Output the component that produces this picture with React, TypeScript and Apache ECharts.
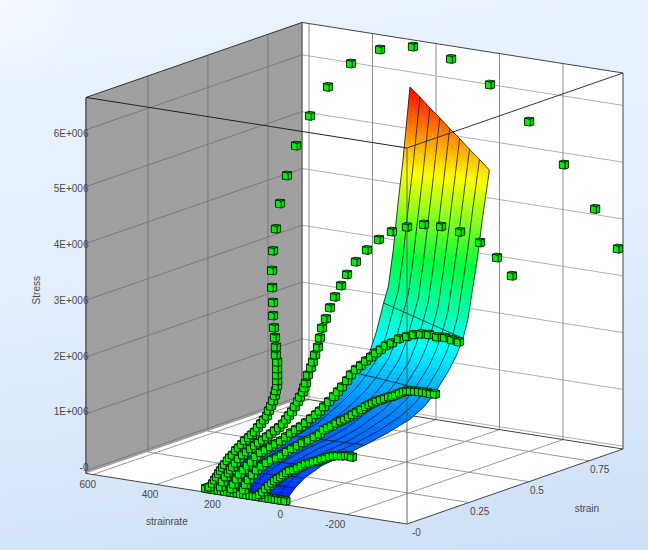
import React, { useEffect, useRef } from "react";
import * as echarts from "echarts";

// Axis extents (strainrate, strain, stress in 1e6)
const strainrateRange = [-389, 622];
const strainRange = [-0.008, 0.892];
const stressRange = [-0.05, 6.57];

const strainrateTicks = [600, 400, 200, 0, -200];
const strainrateLabels = ["600", "400", "200", "0", "-200"];
const strainTicks = [0, 0.25, 0.5, 0.75];
const strainLabels = ["-0", "0.25", "0.5", "0.75"];
const stressTicks = [0, 1, 2, 3, 4, 5, 6];
const stressLabels = ["-0", "1E+006", "2E+006", "3E+006", "4E+006", "5E+006", "6E+006"];

// Fitted surface
const surfaceRates = [250, 218.75, 187.5, 156.25, 125, 93.75, 62.5, 31.25, 0];
const surfaceStrains = [0, 0.04, 0.08, 0.15, 0.25, 0.33, 0.42, 0.52, 0.58, 0.625, 0.68, 0.71, 0.74, 0.76, 0.78, 0.8, 0.82, 0.85];
const surfaceRuledStrains = [0, 0.04, 0.08, 0.15, 0.33, 0.625, 0.74];
const surfaceStress = [
  [0.0, 0.0, 0.0, 0.0, 0.0, 0.0, 0.0, 0.0, 0.0],
  [0.12, 0.13, 0.14, 0.15, 0.15, 0.16, 0.16, 0.17, 0.17],
  [0.2, 0.21, 0.23, 0.24, 0.25, 0.26, 0.27, 0.28, 0.29],
  [0.3, 0.31, 0.33, 0.34, 0.35, 0.36, 0.37, 0.39, 0.4],
  [0.42, 0.42, 0.43, 0.44, 0.44, 0.45, 0.45, 0.46, 0.46],
  [0.46, 0.47, 0.47, 0.48, 0.48, 0.49, 0.49, 0.5, 0.5],
  [0.55, 0.55, 0.56, 0.56, 0.56, 0.56, 0.57, 0.57, 0.57],
  [0.78, 0.77, 0.76, 0.75, 0.74, 0.72, 0.71, 0.7, 0.68],
  [0.95, 0.93, 0.92, 0.9, 0.89, 0.87, 0.85, 0.84, 0.82],
  [1.12, 1.1, 1.09, 1.07, 1.06, 1.04, 1.03, 1.01, 1.0],
  [1.38, 1.37, 1.36, 1.35, 1.34, 1.33, 1.32, 1.31, 1.3],
  [1.72, 1.69, 1.66, 1.63, 1.61, 1.58, 1.55, 1.53, 1.5],
  [2.18, 2.13, 2.08, 2.03, 1.98, 1.93, 1.88, 1.83, 1.78],
  [2.45, 2.4, 2.36, 2.31, 2.27, 2.22, 2.17, 2.13, 2.08],
  [3.05, 2.99, 2.94, 2.88, 2.83, 2.77, 2.71, 2.66, 2.6],
  [3.85, 3.76, 3.66, 3.57, 3.48, 3.38, 3.29, 3.19, 3.1],
  [4.55, 4.45, 4.35, 4.25, 4.15, 4.05, 3.95, 3.85, 3.75],
  [5.82, 5.67, 5.51, 5.36, 5.2, 5.05, 4.89, 4.74, 4.58],
];

// Measured points: one strainrate per curve, [strain, stress] pairs
const curveRates = [240, 205, 170, 130, 80];
const curve1 = [[0.003,0.03],[0.016,0.07],[0.024,0.12],[0.033,0.16],[0.041,0.21],[0.049,0.25],[0.058,0.29],[0.066,0.33],[0.078,0.38],[0.087,0.42],[0.099,0.45],[0.112,0.51],[0.124,0.54],[0.137,0.58],[0.149,0.63],[0.166,0.66],[0.178,0.69],[0.191,0.72],[0.203,0.78],[0.216,0.83],[0.228,0.88],[0.241,0.93],[0.249,1.01],[0.258,1.08],[0.266,1.16],[0.274,1.24],[0.278,1.32],[0.283,1.4],[0.283,1.49],[0.283,1.59],[0.283,1.7],[0.283,1.82],[0.278,1.95],[0.278,2.09],[0.274,2.26],[0.27,2.44],[0.266,2.66],[0.266,2.89],[0.262,3.16],[0.262,3.46],[0.266,3.8],[0.278,4.17],[0.295,4.59],[0.324,5.04],[0.362,5.51],[0.42,5.95],[0.495,6.35],[0.591,6.62],[0.712,6.69],[0.849,6.54],[1.008,6.09],[1.17,5.4],[1.333,4.51],[1.478,3.54],[1.608,2.57],[1.703,1.73]];
const curve2 = [[0.003,0.06],[0.011,0.14],[0.024,0.21],[0.036,0.26],[0.045,0.3],[0.053,0.34],[0.065,0.39],[0.078,0.45],[0.095,0.49],[0.111,0.52],[0.128,0.55],[0.145,0.58],[0.161,0.61],[0.178,0.63],[0.195,0.66],[0.211,0.69],[0.228,0.72],[0.245,0.75],[0.261,0.79],[0.274,0.85],[0.286,0.9],[0.299,0.95],[0.311,1.02],[0.324,1.09],[0.332,1.16],[0.345,1.23],[0.35,1.3],[0.357,1.37],[0.365,1.5],[0.378,1.61],[0.386,1.7],[0.395,1.81],[0.407,1.93],[0.415,2.08],[0.424,2.24],[0.44,2.38],[0.457,2.55],[0.478,2.71],[0.503,2.87],[0.528,3.03],[0.565,3.2],[0.611,3.34],[0.661,3.45],[0.715,3.51],[0.778,3.5],[0.849,3.44],[0.92,3.3],[0.999,3.09],[1.082,2.78],[1.153,2.41],[1.215,2.0]];
const curve3 = [[0.003,0.06],[0.011,0.13],[0.023,0.2],[0.036,0.27],[0.053,0.32],[0.069,0.37],[0.086,0.41],[0.103,0.48],[0.123,0.52],[0.144,0.54],[0.165,0.56],[0.186,0.58],[0.207,0.6],[0.228,0.64],[0.248,0.68],[0.269,0.71],[0.29,0.73],[0.311,0.77],[0.332,0.81],[0.353,0.85],[0.369,0.89],[0.386,0.94],[0.407,1.0],[0.428,1.06],[0.444,1.12],[0.461,1.18],[0.482,1.26],[0.498,1.34],[0.519,1.4],[0.54,1.44],[0.561,1.49],[0.582,1.53],[0.603,1.57],[0.623,1.6],[0.644,1.64],[0.669,1.65],[0.698,1.68],[0.732,1.67],[0.761,1.66],[0.79,1.63],[0.823,1.57],[0.857,1.48],[0.89,1.42],[0.919,1.34],[0.948,1.26]];
const curve4 = [[0,0.08],[0.008,0.16],[0.02,0.23],[0.037,0.29],[0.054,0.35],[0.075,0.39],[0.095,0.42],[0.116,0.44],[0.137,0.44],[0.158,0.46],[0.179,0.49],[0.2,0.51],[0.225,0.53],[0.245,0.55],[0.27,0.56],[0.295,0.58],[0.316,0.6],[0.333,0.65],[0.35,0.66],[0.366,0.67],[0.385,0.69],[0.404,0.7],[0.42,0.71],[0.437,0.72],[0.453,0.74],[0.47,0.76],[0.489,0.78],[0.508,0.8],[0.523,0.81],[0.537,0.82],[0.553,0.83],[0.57,0.83],[0.587,0.83],[0.604,0.83],[0.618,0.82],[0.633,0.82],[0.65,0.83],[0.666,0.83],[0.68,0.82],[0.695,0.8],[0.712,0.77],[0.729,0.74],[0.745,0.71],[0.762,0.67],[0.778,0.63],[0.795,0.6]];
const curve5 = [[0,0.04],[0.013,0.07],[0.025,0.11],[0.038,0.14],[0.05,0.17],[0.063,0.19],[0.075,0.21],[0.088,0.22],[0.1,0.24],[0.113,0.26],[0.125,0.28],[0.142,0.27],[0.158,0.28],[0.175,0.29],[0.192,0.3],[0.208,0.29],[0.225,0.29],[0.242,0.28],[0.258,0.29],[0.275,0.28],[0.292,0.28],[0.308,0.27],[0.325,0.25],[0.342,0.22],[0.358,0.2],[0.371,0.18],[0.383,0.14]];
const baseRowRates = [250,240,230,220,210,200,190,180,170,160,150,140,130,120,110,100,90,80,70,60,50,40,30,20,10,0];

function project(r: number, s: number, z: number): number[] {
  const dr = r - strainrateRange[0];
  const ds = s - strainRange[0];
  const dz = z - stressRange[0];
  return [407 + 240 * ds - 0.3175 * dr, 524 - 83.3 * ds - 0.05 * dr - 56.8 * dz];
}

const colorStops: [number, number[]][] = [
  [0, [0, 30, 255]],
  [1.6, [0, 255, 255]],
  [2.95, [0, 255, 60]],
  [4.39, [255, 255, 0]],
  [5.85, [255, 0, 0]],
];
function colorOf(z: number): string {
  for (let i = 1; i < colorStops.length; i++) {
    if (z <= colorStops[i][0] || i === colorStops.length - 1) {
      const [a, ca] = colorStops[i - 1];
      const [b, cb] = colorStops[i];
      const t = Math.max(0, Math.min(1, (z - a) / (b - a)));
      const c = ca.map((v, k) => Math.round(v + (cb[k] - v) * t));
      return `rgb(${c[0]},${c[1]},${c[2]})`;
    }
  }
  return "#000";
}

type Seg = { a: number[]; b: number[]; color: string; width: number; opacity?: number };
const [rMin, rMax] = strainrateRange;
const [sMin, sMax] = strainRange;
const [zMin, zMax] = stressRange;

function gridSegments(): Seg[] {
  const out: Seg[] = [];
  const grey = "#7a7a7a";
  const light = "#b0b0b0";
  stressTicks.forEach((z) => {
    out.push({ a: [rMax, sMin, z], b: [rMax, sMax, z], color: grey, width: 1 });
    out.push({ a: [rMax, sMax, z], b: [rMin, sMax, z], color: light, width: 1 });
  });
  strainTicks.slice(1).forEach((s) => {
    out.push({ a: [rMax, s, zMin], b: [rMax, s, zMax], color: grey, width: 1 });
    out.push({ a: [rMax, s, zMin], b: [rMin, s, zMin], color: "#999", width: 1 });
  });
  strainrateTicks.forEach((r) => {
    out.push({ a: [r, sMax, zMin], b: [r, sMax, zMax], color: r === 200 ? "#c4c4c4" : "#8c8c8c", width: r === 200 ? 2 : 1 });
    out.push({ a: [r, sMin, zMin], b: [r, sMax, zMin], color: "#999", width: 1 });
  });
  out.push({ a: [rMax, sMax, zMin], b: [rMax, sMax, zMax], color: "#666", width: 1.5 });
  out.push({ a: [rMax, sMin, zMin], b: [rMax, sMin, zMax], color: "#6f6f6f", width: 2 });
  out.push({ a: [rMin, sMax, zMin], b: [rMin, sMax, zMax], color: "#444", width: 1 });
  out.push({ a: [rMax, sMax, zMax], b: [rMin, sMax, zMax], color: "#444", width: 1 });
  out.push({ a: [rMax, sMin, zMax], b: [rMax, sMax, zMax], color: "#333", width: 1 });
  out.push({ a: [rMax, sMin, zMin], b: [rMin, sMin, zMin], color: "#444", width: 1 });
  out.push({ a: [rMin, sMin, zMin], b: [rMin, sMax, zMin], color: "#444", width: 1 });
  out.push({ a: [rMin, sMax, zMin], b: [rMax, sMax, zMin], color: "#444", width: 1 });
  return out;
}
const frontSegments: Seg[] = [
  { a: [rMax, sMin, zMax], b: [rMin, sMin, zMax], color: "#222", width: 1 },
  { a: [rMin, sMin, zMax], b: [rMin, sMax, zMax], color: "#333", width: 1 },
  { a: [rMin, sMin, zMin], b: [rMin, sMin, zMax], color: "#555", width: 1.5, opacity: 0.6 },
];

function surfaceQuads() {
  const out: { p: number[][]; color: string }[] = [];
  for (let j = 0; j < surfaceStrains.length - 1; j++) {
    for (let i = 0; i < surfaceRates.length - 1; i++) {
      const z00 = surfaceStress[j][i], z01 = surfaceStress[j][i + 1];
      const z10 = surfaceStress[j + 1][i], z11 = surfaceStress[j + 1][i + 1];
      const nv = Math.min(16, Math.ceil(Math.abs(z10 - z00) / 0.1) + 1);
      const nu = 2;
      const val = (u: number, v: number) =>
        (1 - v) * ((1 - u) * z00 + u * z01) + v * ((1 - u) * z10 + u * z11);
      const P = (u: number, v: number) => [
        surfaceRates[i] + (surfaceRates[i + 1] - surfaceRates[i]) * u,
        surfaceStrains[j] + (surfaceStrains[j + 1] - surfaceStrains[j]) * v,
        val(u, v),
      ];
      for (let a = 0; a < nu; a++) {
        for (let b = 0; b < nv; b++) {
          const u0 = a / nu, u1 = (a + 1) / nu, v0 = b / nv, v1 = (b + 1) / nv;
          out.push({
            p: [P(u0, v0), P(u1, v0), P(u1, v1), P(u0, v1)],
            color: colorOf(val((u0 + u1) / 2, (v0 + v1) / 2)),
          });
        }
      }
    }
  }
  return out;
}

function surfaceLines(): number[][][] {
  const lines: number[][][] = [];
  surfaceRates.forEach((r, i) => {
    lines.push(surfaceStrains.map((s, j) => [r, s, surfaceStress[j][i]]));
  });
  surfaceStrains.forEach((s, j) => {
    if (surfaceRuledStrains.includes(s) || j === surfaceStrains.length - 1) {
      lines.push(surfaceRates.map((r, i) => [r, s, surfaceStress[j][i]]));
    }
  });
  return lines;
}

function markerPoints(): number[][] {
  const pts: number[][] = [];
  baseRowRates.forEach((r) => pts.push([r, 0, 0]));
  [curve1, curve2, curve3, curve4, curve5].forEach((c, k) => {
    c.forEach(([s, z]) => pts.push([curveRates[k], s, z]));
  });
  return pts;
}

type Lab = { text: string; pos: number[]; dx: number; dy: number; align: string; rot?: number };
function labels(): Lab[] {
  const out: Lab[] = [];
  strainrateTicks.forEach((r, i) =>
    out.push({ text: strainrateLabels[i], pos: [r, sMin, zMin], dx: r * 0.006 - 0.5, dy: 9.5, align: "right" })
  );
  strainTicks.forEach((s, i) =>
    out.push({ text: strainLabels[i], pos: [rMin, s, zMin], dx: i === 0 ? 3 : 1, dy: 9, align: "left" })
  );
  stressTicks.forEach((z, i) =>
    out.push({ text: stressLabels[i], pos: [rMax, sMin, z], dx: 2.5, dy: -3 + 1.05 * z, align: "right" })
  );
  out.push({ text: "strainrate", pos: [150, sMin, zMin], dx: -69, dy: 24, align: "center" });
  out.push({ text: "strain", pos: [rMin, 0.6, zMin], dx: 34, dy: 35, align: "center" });
  out.push({ text: "Stress", pos: [rMax, sMin, 3], dx: -50, dy: -10, align: "center", rot: Math.PI / 2 });
  return out;
}

const noXY = { encode: { x: 0, y: 1 }, silent: true, clip: false };

export default function App() {
  const ref = useRef<HTMLDivElement>(null);
  useEffect(() => {
    document.body.style.margin = "0";
    const chart = echarts.init(ref.current!, null, { renderer: "svg" });
    const segs = gridSegments();
    const quads = surfaceQuads();
    const sLines = surfaceLines();
    const marks = markerPoints();
    const labs = labels();
    const idx = (n: number) => Array.from({ length: n }, (_, i) => [i, i]);
    const segItem = (list: Seg[]) => (params: any, api: any) => {
      const g = list[params.dataIndex];
      const a = api.coord(project(g.a[0], g.a[1], g.a[2]));
      const b = api.coord(project(g.b[0], g.b[1], g.b[2]));
      return {
        type: "line",
        shape: { x1: a[0], y1: a[1], x2: b[0], y2: b[1] },
        style: { stroke: g.color, lineWidth: g.width, opacity: g.opacity ?? 1 },
      };
    };
    const faces = [
      [rMax, sMin, zMin, rMax, sMax, zMin, rMax, sMax, zMax, rMax, sMin, zMax, "#a0a0a0"],
      [rMax, sMax, zMin, rMin, sMax, zMin, rMin, sMax, zMax, rMax, sMax, zMax, "#ffffff"],
      [rMax, sMin, zMin, rMin, sMin, zMin, rMin, sMax, zMin, rMax, sMax, zMin, "#ffffff"],
    ] as any[];
    chart.setOption({
      animation: false,
      backgroundColor: "transparent",
      grid: { left: 0, right: 0, top: 0, bottom: 0 },
      xAxis: { type: "value", min: 0, max: 648, show: false },
      yAxis: { type: "value", min: 0, max: 550, inverse: true, show: false },
      tooltip: { show: false },
      series: [
        {
          type: "custom", ...noXY, z: 1, data: idx(faces.length),
          renderItem: (params: any, api: any) => {
            const f = faces[params.dataIndex];
            const pts = [0, 3, 6, 9].map((k) => api.coord(project(f[k], f[k + 1], f[k + 2])));
            return { type: "polygon", shape: { points: pts }, style: { fill: f[12] } };
          },
        },
        { type: "custom", ...noXY, z: 2, data: idx(segs.length), renderItem: segItem(segs) },
        {
          type: "custom", ...noXY, z: 3, data: idx(quads.length),
          renderItem: (params: any, api: any) => {
            const q = quads[params.dataIndex];
            const pts = q.p.map((p) => api.coord(project(p[0], p[1], p[2])));
            return { type: "polygon", shape: { points: pts }, style: { fill: q.color, stroke: q.color, lineWidth: 0.6 } };
          },
        },
        {
          type: "custom", ...noXY, z: 4, data: idx(sLines.length),
          renderItem: (params: any, api: any) => {
            const l = sLines[params.dataIndex];
            const pts = l.map((p) => api.coord(project(p[0], p[1], p[2])));
            return { type: "polyline", shape: { points: pts }, style: { stroke: "#101820", lineWidth: 0.8, fill: "none" } };
          },
        },
        { type: "custom", ...noXY, z: 5, data: idx(frontSegments.length), renderItem: segItem(frontSegments) },
        {
          type: "custom", ...noXY, z: 6, data: idx(marks.length),
          renderItem: (params: any, api: any) => {
            const m = marks[params.dataIndex];
            const c = api.coord(project(m[0], m[1], m[2]));
            const p0 = [c[0] + 1.2, c[1] + 4.2];
            const a = [-5.8, -0.8], b = [3.4, -1.1], h = [0, -7];
            const add = (...v: number[][]) => v.reduce((s, w) => [s[0] + w[0], s[1] + w[1]], [0, 0]);
            const st = (fill: string) => ({ fill, stroke: "#062c06", lineWidth: 1 });
            return {
              type: "group",
              children: [
                { type: "polygon", shape: { points: [p0, add(p0, a), add(p0, a, h), add(p0, h)] }, style: st("#00f000") },
                { type: "polygon", shape: { points: [p0, add(p0, b), add(p0, b, h), add(p0, h)] }, style: st("#00d800") },
                { type: "polygon", shape: { points: [add(p0, h), add(p0, a, h), add(p0, a, b, h), add(p0, b, h)] }, style: st("#00e000") },
              ],
            };
          },
        },
        {
          type: "custom", ...noXY, z: 7, data: idx(labs.length),
          renderItem: (params: any, api: any) => {
            const l = labs[params.dataIndex];
            const c = api.coord(project(l.pos[0], l.pos[1], l.pos[2]));
            return {
              type: "text",
              x: c[0] + l.dx,
              y: c[1] + l.dy,
              rotation: l.rot ?? 0,
              style: {
                text: l.text,
                fill: "#4a4a4a",
                font: '10px "Liberation Sans"',
                align: l.align,
                verticalAlign: "middle",
              },
            };
          },
        },
      ],
    });
    return () => chart.dispose();
  }, []);
  return (
    <div
      style={{
        width: 648,
        height: 550,
        background:
          "radial-gradient(circle at 0 0, #f6faff 0, rgba(246,250,255,0) 90px), linear-gradient(172deg, #eaf3fe 0%, #e3effd 45%, #cfe0f6 100%)",
      }}
    >
      <div ref={ref} style={{ width: 648, height: 550 }} />
    </div>
  );
}
